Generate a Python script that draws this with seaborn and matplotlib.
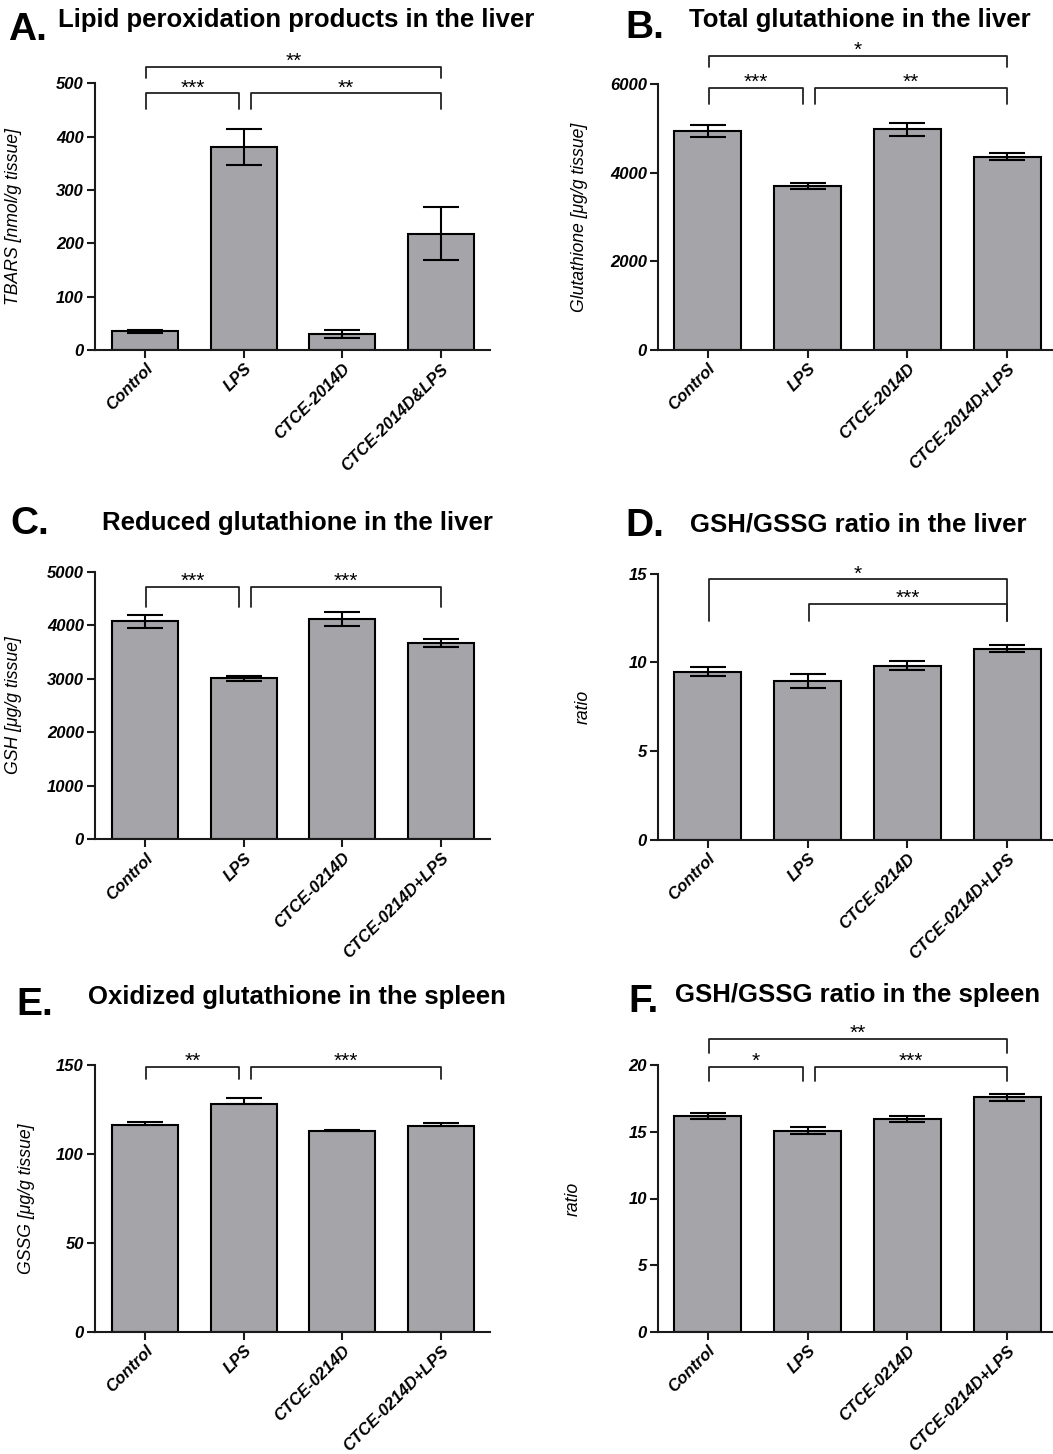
import numpy as np
import pandas as pd
import matplotlib
matplotlib.use("Agg")
import matplotlib.pyplot as plt
import seaborn as sns

# categories
cats_a = ["Control", "LPS", "CTCE-2014D", "CTCE-2014D&LPS"]
cats_b = ["Control", "LPS", "CTCE-2014D", "CTCE-2014D+LPS"]
cats_cf = ["Control", "LPS", "CTCE-0214D", "CTCE-0214D+LPS"]

# means and SEM
tbars = [35, 381, 30, 218]
tbars_err = [3, 34, 7, 50]
total_gsh = [4940, 3700, 4980, 4360]
total_gsh_err = [145, 75, 150, 75]
gsh = [4070, 3010, 4120, 3675]
gsh_err = [125, 50, 128, 75]
ratio_liver = [9.48, 8.96, 9.82, 10.77]
ratio_liver_err = [0.25, 0.38, 0.25, 0.2]
gssg_spleen = [116.3, 128.1, 112.9, 115.5]
gssg_spleen_err = [1.9, 3.1, 0.4, 1.8]
ratio_spleen = [16.18, 15.08, 15.96, 17.6]
ratio_spleen_err = [0.25, 0.27, 0.24, 0.26]

# significance brackets: (group i, group j, stars, bar level, leg bottom)
sig_a = [(0, 1, "***", 481, 451), (1, 3, "**", 481, 451), (0, 3, "**", 530, 510)]
sig_b = [(0, 1, "***", 5904, 5543), (1, 3, "**", 5904, 5543), (0, 3, "*", 6640, 6391)]
sig_c = [(0, 1, "***", 4708, 4334), (1, 3, "***", 4708, 4334)]
sig_d = [(0, 3, "*", 14.68, 12.35), (1, 3, "***", 13.29, 12.35)]
sig_e = [(0, 1, "**", 149, 141.9), (1, 3, "***", 149, 141.9)]
sig_f = [(0, 1, "*", 19.88, 18.8), (1, 3, "***", 19.88, 18.8), (0, 3, "**", 21.95, 20.92)]

sns.set_style("ticks")
plt.rcParams["font.family"] = ["Liberation Sans", "DejaVu Sans"]
plt.rcParams["text.color"] = "black"
plt.rcParams["axes.labelcolor"] = "black"
plt.rcParams["xtick.color"] = "black"
plt.rcParams["ytick.color"] = "black"

W, H = 1053, 1454
fig = plt.figure(figsize=(W / 100, H / 100), dpi=100)

BAR = "#a4a4a9"


def rect(x0, x1, ytop, ybot):
    return [x0 / W, 1 - ybot / H, (x1 - x0) / W, (ybot - ytop) / H]


def panel(box, cats, vals, errs, ymax, step, ylabel, ylab_x, sigs, xlim, upper_only=False):
    ax = fig.add_axes(rect(*box))
    df = pd.DataFrame({"group": cats, "value": vals})
    sns.barplot(data=df, x="group", y="value", order=cats, color=BAR, saturation=1,
                edgecolor="black", linewidth=1.5, width=0.67, errorbar=None, ax=ax, zorder=2)
    yerr = [np.zeros(len(errs)), errs] if upper_only else errs
    ax.errorbar(np.arange(len(cats)), vals, yerr=yerr, fmt="none", ecolor="black",
                elinewidth=1.5, capsize=13, capthick=1.5, zorder=3)
    ax.set_ylim(0, ymax)
    ax.set_yticks(np.arange(0, ymax + step / 2, step))
    ax.set_xlim(*xlim)
    sns.despine(ax=ax)
    for s in ["left", "bottom"]:
        ax.spines[s].set_linewidth(1.5)
        ax.spines[s].set_color("#1a1a1a")
    ax.tick_params(axis="both", length=6, width=1.5, color="#1a1a1a", pad=2)
    ax.set_xlabel("")
    ax.set_ylabel(ylabel, fontsize=12.7, fontstyle="italic")
    ax.yaxis.set_label_coords(ylab_x, 0.5)
    for t in ax.get_yticklabels():
        t.set_fontweight("bold")
        t.set_fontstyle("italic")
        t.set_fontsize(12)
    ax.set_xticks(range(len(cats)))
    ax.set_xticklabels(cats, rotation=45, ha="right", rotation_mode="anchor",
                       fontweight="bold", fontstyle="italic", fontsize=12)
    # brackets
    for i, j, stars, ylev, yleg in sigs:
        shared_i = any(o[1] == i and o[3] == ylev for o in sigs)
        shared_j = any(o[0] == j and o[3] == ylev for o in sigs)
        x1 = i + (0.07 if shared_i else 0.01)
        x2 = j - (0.05 if shared_j else 0.0)
        ax.plot([x1, x1, x2, x2], [yleg, ylev, ylev, yleg], color="#222222", lw=1.3,
                clip_on=False, zorder=4)
        ax.annotate(stars, xy=((x1 + x2) / 2, ylev), xytext=(0, 0), textcoords="offset points",
                    ha="center", va="baseline", fontsize=15, annotation_clip=False)
    return ax


left_xlim = (-0.508, 3.50)
right_xlim = (-0.50, 3.46)

panel((95, 490, 83.3, 350), cats_a, tbars, tbars_err, 500, 100,
      "TBARS [nmol/g tissue]", -0.185, sig_a, left_xlim)
panel((658, 1053, 84, 350), cats_b, total_gsh, total_gsh_err, 6000, 2000,
      "Glutathione [μg/g tissue]", -0.177, sig_b, right_xlim)
panel((95, 490, 571.7, 839.3), cats_cf, gsh, gsh_err, 5000, 1000,
      "GSH [μg/g tissue]", -0.185, sig_c, left_xlim)
panel((658, 1053, 573.7, 840), cats_cf, ratio_liver, ratio_liver_err, 15, 5,
      "ratio", -0.167, sig_d, right_xlim)
panel((95, 490, 1065, 1331.7), cats_cf, gssg_spleen, gssg_spleen_err, 150, 50,
      "GSSG [μg/g tissue]", -0.152, sig_e, left_xlim, upper_only=True)
panel((658, 1053, 1065, 1332), cats_cf, ratio_spleen, ratio_spleen_err, 20, 5,
      "ratio", -0.192, sig_f, right_xlim)

# panel letters and titles (pixel positions)
letters = [("A.", 8, 30), ("B.", 625, 28), ("C.", 10, 524), ("D.", 625, 526),
           ("E.", 16, 1005), ("F.", 628, 1002)]
for txt, x, y in letters:
    fig.text(x / W, 1 - y / H, txt, fontsize=28, fontweight="bold", ha="left", va="center")

titles = [("Lipid peroxidation products in the liver", 296, 20),
          ("Total glutathione in the liver", 860, 20),
          ("Reduced glutathione in the liver", 297, 523),
          ("GSH/GSSG ratio in the liver", 858, 524),
          ("Oxidized glutathione in the spleen", 297, 997),
          ("GSH/GSSG ratio in the spleen", 858, 995)]
for txt, x, y in titles:
    fig.text(x / W, 1 - y / H, txt, fontsize=18.5, fontweight="bold", ha="center", va="center")

fig.savefig("out.png", dpi=100)
